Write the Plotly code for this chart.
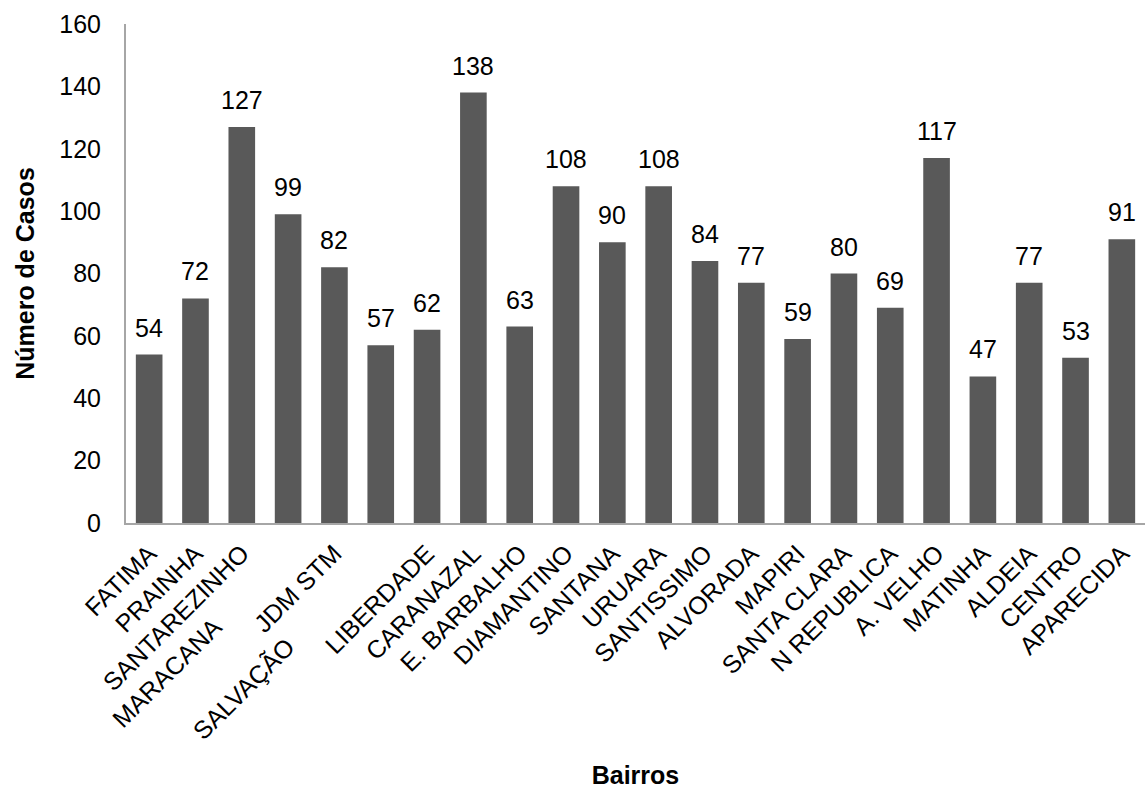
import plotly.graph_objects as go

# Number of cases per neighbourhood
bairros = [
    "FATIMA", "PRAINHA", "SANTAREZINHO", "MARACANA", "JDM STM", "SALVAÇÃO",
    "LIBERDADE", "CARANAZAL", "E. BARBALHO", "DIAMANTINO", "SANTANA", "URUARA",
    "SANTISSIMO", "ALVORADA", "MAPIRI", "SANTA CLARA", "N REPUBLICA", "A. VELHO",
    "MATINHA", "ALDEIA", "CENTRO", "APARECIDA",
]
casos = [54, 72, 127, 99, 82, 57, 62, 138, 63, 108, 90, 108, 84, 77, 59, 80,
         69, 117, 47, 77, 53, 91]
y_ticks = [0, 20, 40, 60, 80, 100, 120, 140, 160]

# some category labels carry trailing padding so they sit lower on the axis
padding = {"MARACANA": 15, "SALVAÇÃO": 19}
tick_text = [b + "\u00a0" * padding.get(b, 0) for b in bairros]

font_family = "Liberation Sans, Arial, sans-serif"
x_pos = list(range(len(bairros)))

fig = go.Figure(
    go.Bar(
        x=x_pos,
        y=casos,
        marker=dict(color="#595959", line=dict(width=0)),
        hoverinfo="x+y",
    )
)

# value labels above each bar
for xi, v in zip(x_pos, casos):
    fig.add_annotation(
        x=xi, y=v, text=str(v), showarrow=False,
        xanchor="center", yanchor="middle", yshift=27,
        font=dict(size=25, color="#000000", family=font_family),
    )

fig.update_layout(
    width=1145,
    height=789,
    margin=dict(l=126, r=0, t=24, b=266),
    paper_bgcolor="white",
    plot_bgcolor="white",
    bargap=0.425,
    showlegend=False,
    font=dict(family=font_family, size=25, color="#000000"),
)

fig.update_xaxes(
    range=[-0.5, len(bairros) - 0.5],
    tickmode="array",
    tickvals=x_pos,
    ticktext=tick_text,
    tickangle=-45,
    ticks="",
    ticklabelstandoff=4,
    showgrid=False,
    showline=True,
    linecolor="#a6a6a6",
    linewidth=2,
    tickfont=dict(size=25),
    title=dict(text="<b>Bairros</b>", font=dict(size=25), standoff=60),
    automargin=False,
)

fig.update_yaxes(
    range=[0, 160],
    tickmode="array",
    tickvals=y_ticks,
    ticks="",
    ticklabelstandoff=18,
    showgrid=False,
    zeroline=False,
    showline=True,
    linecolor="#a6a6a6",
    linewidth=2,
    tickfont=dict(size=25),
    title=dict(text="<b>Número de Casos</b>", font=dict(size=25), standoff=18),
    automargin=False,
)

fig.write_html("out.html")
